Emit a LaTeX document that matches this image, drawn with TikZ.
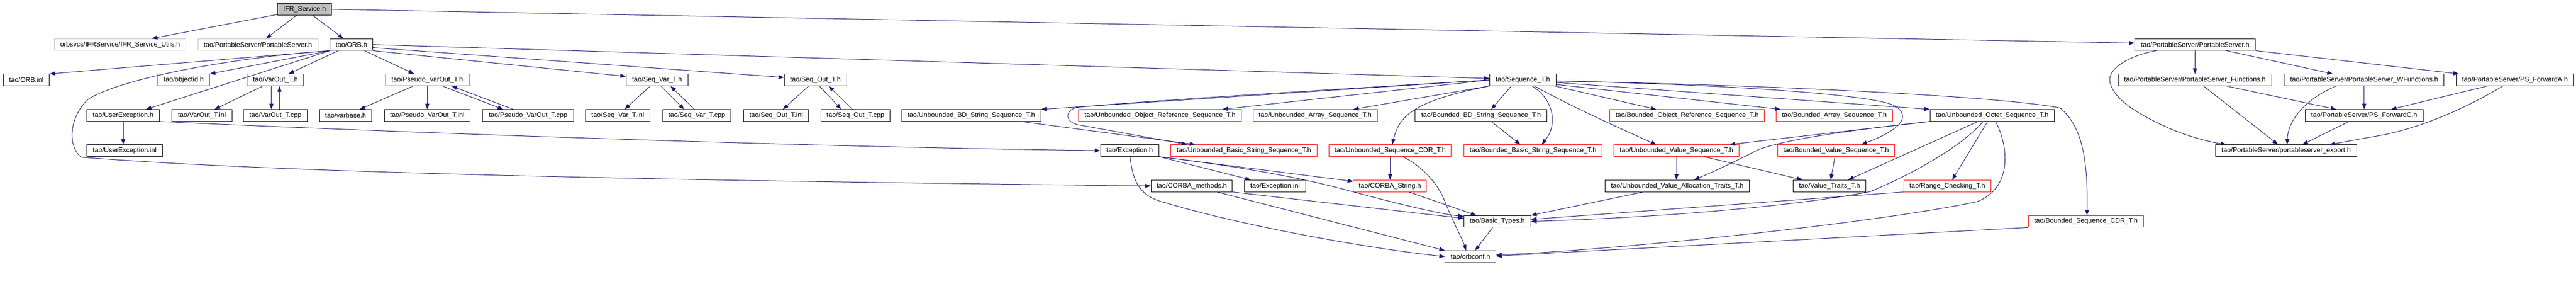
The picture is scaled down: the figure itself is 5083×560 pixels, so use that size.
\documentclass[tikz,border=0pt]{standalone}
\usepackage{fontspec}
\setmainfont{Liberation Sans}
\usetikzlibrary{arrows.meta}
\definecolor{edgeblue}{HTML}{191970}
\definecolor{lgray}{HTML}{BFBFBF}
\tikzset{
  nbox/.style={draw=black, line width=1pt, minimum height=23pt, inner sep=0pt, fill=white, text=black, font=\fontsize{13.3}{16}\selectfont},
  redbox/.style={nbox, draw=red},
  graybox/.style={nbox, draw=lgray},
  rootbox/.style={nbox, fill=lgray},
  dep/.style={draw=edgeblue, line width=1pt, -{Triangle[length=11pt,width=8pt]}, fill=none}
}
\begin{document}
\begin{tikzpicture}[x=1pt,y=-1pt]
\useasboundingbox (0,0) rectangle (5083,560);
% row 0
\node[rootbox, minimum width=107pt] (root) at (601,18.3) {IFR\_Service.h};
% row 1
\node[graybox, minimum width=259pt] (utils) at (237,88) {orbsvcs/IFRService/IFR\_Service\_Utils.h};
\node[graybox, minimum width=237pt] (psg) at (509,88) {tao/PortableServer/PortableServer.h};
\node[nbox, minimum width=84pt] (orb) at (693.5,88) {tao/ORB.h};
\node[nbox, minimum width=238pt] (ps) at (4331.5,88) {tao/PortableServer/PortableServer.h};
% row 2
\node[nbox, minimum width=91pt] (orbinl) at (52,157.7) {tao/ORB.inl};
\node[nbox, minimum width=102pt] (objectid) at (362.5,157.7) {tao/objectid.h};
\node[nbox, minimum width=112pt] (varout) at (543.5,157.7) {tao/VarOut\_T.h};
\node[nbox, minimum width=165pt] (pvarout) at (843,157.7) {tao/Pseudo\_VarOut\_T.h};
\node[nbox, minimum width=122pt] (seqvar) at (1296.5,157.7) {tao/Seq\_Var\_T.h};
\node[nbox, minimum width=123pt] (seqout) at (1609,157.7) {tao/Seq\_Out\_T.h};
\node[nbox, minimum width=131pt] (seq) at (3005,157.7) {tao/Sequence\_T.h};
\node[nbox, minimum width=303pt] (psf) at (4331,157.7) {tao/PortableServer/PortableServer\_Functions.h};
\node[nbox, minimum width=315pt] (pswf) at (4665,157.7) {tao/PortableServer/PortableServer\_WFunctions.h};
\node[nbox, minimum width=232pt] (psfa) at (4962.5,157.7) {tao/PortableServer/PS\_ForwardA.h};
% row 3
\node[nbox, minimum width=143pt] (userex) at (243,227.7) {tao/UserException.h};
\node[nbox, minimum width=118pt] (varoutinl) at (398.5,227.7) {tao/VarOut\_T.inl};
\node[nbox, minimum width=126pt] (varoutcpp) at (543.5,227.7) {tao/VarOut\_T.cpp};
\node[nbox, minimum width=103pt] (varbase) at (682,227.7) {tao/varbase.h};
\node[nbox, minimum width=169pt] (pvaroutinl) at (843,227.7) {tao/Pseudo\_VarOut\_T.inl};
\node[nbox, minimum width=179pt] (pvaroutcpp) at (1042,227.7) {tao/Pseudo\_VarOut\_T.cpp};
\node[nbox, minimum width=127pt] (seqvarinl) at (1219,227.7) {tao/Seq\_Var\_T.inl};
\node[nbox, minimum width=135pt] (seqvarcpp) at (1375,227.7) {tao/Seq\_Var\_T.cpp};
\node[nbox, minimum width=128pt] (seqoutinl) at (1531.5,227.7) {tao/Seq\_Out\_T.inl};
\node[nbox, minimum width=137pt] (seqoutcpp) at (1688,227.7) {tao/Seq\_Out\_T.cpp};
\node[nbox, minimum width=274pt] (ubds) at (1916.5,227.7) {tao/Unbounded\_BD\_String\_Sequence\_T.h};
\node[redbox, minimum width=321pt] (uors) at (2289,227.7) {tao/Unbounded\_Object\_Reference\_Sequence\_T.h};
\node[redbox, minimum width=245pt] (uas) at (2595,227.7) {tao/Unbounded\_Array\_Sequence\_T.h};
\node[nbox, minimum width=260pt] (bbds) at (2922.5,227.7) {tao/Bounded\_BD\_String\_Sequence\_T.h};
\node[redbox, minimum width=305pt] (bors) at (3329,227.7) {tao/Bounded\_Object\_Reference\_Sequence\_T.h};
\node[redbox, minimum width=230pt] (bas) at (3619.5,227.7) {tao/Bounded\_Array\_Sequence\_T.h};
\node[nbox, minimum width=245pt] (uos) at (3931,227.7) {tao/Unbounded\_Octet\_Sequence\_T.h};
\node[nbox, minimum width=233pt] (psfc) at (4665,227.7) {tao/PortableServer/PS\_ForwardC.h};
% row 4
\node[nbox, minimum width=149pt] (userexinl) at (246,297) {tao/UserException.inl};
\node[nbox, minimum width=115pt] (exc) at (2229,297) {tao/Exception.h};
\node[redbox, minimum width=288pt] (ubss) at (2454.5,297) {tao/Unbounded\_Basic\_String\_Sequence\_T.h};
\node[redbox, minimum width=241pt] (uscdr) at (2743,297) {tao/Unbounded\_Sequence\_CDR\_T.h};
\node[redbox, minimum width=273pt] (bbss) at (3025,297) {tao/Bounded\_Basic\_String\_Sequence\_T.h};
\node[redbox, minimum width=247pt] (uvs) at (3308,297) {tao/Unbounded\_Value\_Sequence\_T.h};
\node[redbox, minimum width=231pt] (bvs) at (3623,297) {tao/Bounded\_Value\_Sequence\_T.h};
\node[nbox, minimum width=279pt] (pse) at (4511,297) {tao/PortableServer/portableserver\_export.h};
% row 5
\node[nbox, minimum width=160pt] (cm) at (2351.5,366.7) {tao/CORBA\_methods.h};
\node[nbox, minimum width=121pt] (excinl) at (2516,366.7) {tao/Exception.inl};
\node[redbox, minimum width=144pt] (cs) at (2742.5,366.7) {tao/CORBA\_String.h};
\node[nbox, minimum width=284pt] (uvat) at (3309.5,366.7) {tao/Unbounded\_Value\_Allocation\_Traits\_T.h};
\node[nbox, minimum width=143pt] (vt) at (3610,366.7) {tao/Value\_Traits\_T.h};
\node[redbox, minimum width=172pt] (rc) at (3842.5,366.7) {tao/Range\_Checking\_T.h};
% row 6
\node[nbox, minimum width=132pt] (bt) at (2954.5,436.7) {tao/Basic\_Types.h};
\node[redbox, minimum width=227pt] (bscdr) at (4116,436.7) {tao/Bounded\_Sequence\_CDR\_T.h};
% row 7
\node[nbox, minimum width=100pt] (oc) at (2901.5,506) {tao/orbconf.h};

% ---- edges ----
\draw[dep] (root) -- (utils);
\draw[dep] (root) -- (psg);
\draw[dep] (root) -- (orb);
\draw[dep] (root.east) -- ([yshift=3pt]ps.west);

\draw[dep] (orb.south west) -- (orbinl.north east);
\draw[dep] (orb.south west) -- (objectid.north east);
\draw[dep] (orb.south west) -- ([xshift=45pt]userex.north);
\draw[dep] (orb.south west) .. controls (480,112) and (250,150) .. (175,195) .. controls (140,225) and (130,285) .. (160,310) .. controls (600,345) and (1500,358) .. (cm.west);
\draw[dep] (orb) -- (varout);
\draw[dep] (orb) -- (pvarout);
\draw[dep] (orb.south east) -- ([yshift=7pt]seqvar.west);
\draw[dep] ([yshift=-6pt]orb.east) -- ([yshift=5pt]seqout.west);
\draw[dep] (orb.east) -- ([yshift=3pt]seq.west);

\draw[dep] (varout) -- (varoutinl);
\draw[dep] ([xshift=-8pt]varout.south) -- ([xshift=-8pt]varoutcpp.north);
\draw[dep] ([xshift=8pt]varoutcpp.north) -- ([xshift=8pt]varout.south);
\draw[dep] (pvarout) -- (varbase);
\draw[dep] (pvarout) -- (pvaroutinl);
\draw[dep] ([xshift=30pt]pvarout.south) -- ([xshift=-49pt]pvaroutcpp.north);
\draw[dep] ([xshift=-29pt]pvaroutcpp.north) -- ([xshift=48pt]pvarout.south);
\draw[dep] (seqvar) -- (seqvarinl);
\draw[dep] ([xshift=7.5pt]seqvar.south) -- ([xshift=-25pt]seqvarcpp.north);
\draw[dep] ([xshift=-5pt]seqvarcpp.north) -- ([xshift=26.5pt]seqvar.south);
\draw[dep] (seqout) -- (seqoutinl);
\draw[dep] ([xshift=8pt]seqout.south) -- ([xshift=-28pt]seqoutcpp.north);
\draw[dep] ([xshift=-6pt]seqoutcpp.north) -- ([xshift=26pt]seqout.south);

% Sequence_T.h
\draw[dep] (seq.west) -- (ubds.north east);
\draw[dep] (seq.west) .. controls (2600,178) and (2200,203) .. (2125,212) .. controls (2100,217) and (2100,243) .. (2132,247) -- ([xshift=-112pt]ubss.north);
\draw[dep] ([xshift=98pt]ubds.south) -- ([xshift=-96pt]ubss.north);
\draw[dep] (seq.west) -- ([xshift=123pt]uors.north);
\draw[dep] (seq.south west) -- ([xshift=75pt]uas.north);
\draw[dep] (seq.south west) .. controls (2795,198) and (2762,225) .. ([xshift=4pt]uscdr.north);
\draw[dep] ([xshift=-23pt]seq.south) -- ([xshift=20pt]bbds.north);
\draw[dep] ([xshift=20pt]bbds.south) -- ([xshift=-25pt]bbss.north);
\draw[dep] ([xshift=18pt]seq.south) .. controls (3065,195) and (3075,245) .. ([xshift=17pt]bbss.north);
\draw[dep] ([xshift=23pt]seq.south) .. controls (3100,210) and (3200,255) .. ([xshift=-40pt]uvs.north);
\draw[dep] ([xshift=-3pt]seq.south east) -- ([xshift=-61pt]bors.north);
\draw[dep] ([yshift=-9pt]seq.east) -- ([xshift=-106pt]bas.north);
\draw[dep] ([yshift=-5pt]seq.east) -- (uos.north west);
\draw[dep] ([yshift=-2pt]seq.east) .. controls (3450,168) and (3690,188) .. (3735,207) .. controls (3770,225) and (3760,252) .. ([xshift=50pt]bvs.north);
\draw[dep] ([yshift=-2pt]seq.east) .. controls (3500,168) and (3950,190) .. (4065,213) .. controls (4110,250) and (4120,320) .. ([xshift=2pt]bscdr.north);

% Unbounded_Octet_Sequence_T.h
\draw[dep] (uos.south west) -- ([xshift=105pt]uvs.north);
\draw[dep] (uos.south west) .. controls (3600,262) and (3510,280) .. (3470,295) .. controls (3430,315) and (3390,335) .. ([xshift=33pt]uvat.north);
\draw[dep] ([xshift=-28pt]uos.south) -- ([xshift=37pt]vt.north);
\draw[dep] ([xshift=-9pt]uos.south) -- ([xshift=9.5pt]rc.north);
\draw[dep] ([xshift=-18pt]uos.south) .. controls (3870,290) and (3770,345) .. (3690,378) .. controls (3550,405) and (3300,428) .. (bt.east);
\draw[dep] ([xshift=7pt]uos.south) .. controls (3968,300) and (3965,375) .. (3900,398) .. controls (3700,440) and (3200,492) .. ([yshift=3pt]oc.east);
\draw[dep] (rc.south west) -- ([yshift=4pt]bt.east);
\draw[dep] (bscdr.south west) -- ([yshift=1pt]oc.east);

% Value sequences
\draw[dep] (uvs.south) -- (uvs.south |- uvat.north);
\draw[dep] ([xshift=54pt]uvs.south) -- ([xshift=-53pt]vt.north);
\draw[dep] (bvs) -- (vt);
\draw[dep] ([xshift=-67pt]uvat.south) -- (bt.north east);

% Exception and friends
\draw[dep] (userex.south) -- (userex.south |- userexinl.north);
\draw[dep] (userex.south east) .. controls (800,262) and (1600,290) .. (exc.west);
\draw[dep] (exc.south east) -- ([xshift=-48pt]excinl.north);
\draw[dep] (exc.south east) -- ([yshift=-3pt]cs.north west);
\draw[dep] (exc.south east) .. controls (2500,335) and (2600,360) .. (2650,373) .. controls (2750,400) and (2840,422) .. ([yshift=-2pt]bt.north west);
\draw[dep] ([xshift=1pt]exc.south) .. controls (2235,360) and (2250,388) .. (2300,400) .. controls (2450,445) and (2700,490) .. (oc.west);
\draw[dep] (cm.south east) -- ([yshift=-6pt]bt.north west);
\draw[dep] ([xshift=50pt]cm.south) -- (oc.north west);
\draw[dep] ([xshift=37.5pt]cs.south) -- ([xshift=-41.5pt]bt.north);
\draw[dep] (uscdr.south) -- (uscdr.south |- cs.north);
\draw[dep] ([xshift=25pt]uscdr.south) .. controls (2810,330) and (2838,365) .. (2850,395) .. controls (2868,440) and (2885,470) .. ([xshift=-8.5pt]oc.north);
\draw[dep] (bt) -- (oc);

% PortableServer
\draw[dep] (ps) -- (psf);
\draw[dep] ([xshift=62pt]ps.south) -- ([xshift=-62pt]pswf.north);
\draw[dep] (ps.south east) -- ([xshift=-110.5pt]psfa.north);
\draw[dep] ([xshift=-77pt]ps.south) .. controls (4200,110) and (4160,135) .. (4163,160) .. controls (4170,200) and (4230,230) .. (4280,253) .. controls (4320,270) and (4360,280) .. ([xshift=-118pt]pse.north);
\draw[dep] ([xshift=17pt]psf.south) -- ([xshift=-16pt]pse.north);
\draw[dep] ([xshift=62pt]psf.south) -- ([xshift=-55pt]psfc.north);
\draw[dep] ([xshift=-55pt]pswf.south) .. controls (4560,190) and (4515,230) .. ([xshift=2pt]pse.north);
\draw[dep] (pswf) -- (psfc);
\draw[dep] ([xshift=-30pt]psfc.south) -- ([xshift=32pt]pse.north);
\draw[dep] ([xshift=-54.5pt]psfa.south) -- ([xshift=53pt]psfc.north);
\draw[dep] ([xshift=-24pt]psfa.south) .. controls (4880,205) and (4780,255) .. (4680,270) -- ([xshift=86pt]pse.north);
\end{tikzpicture}
\end{document}
